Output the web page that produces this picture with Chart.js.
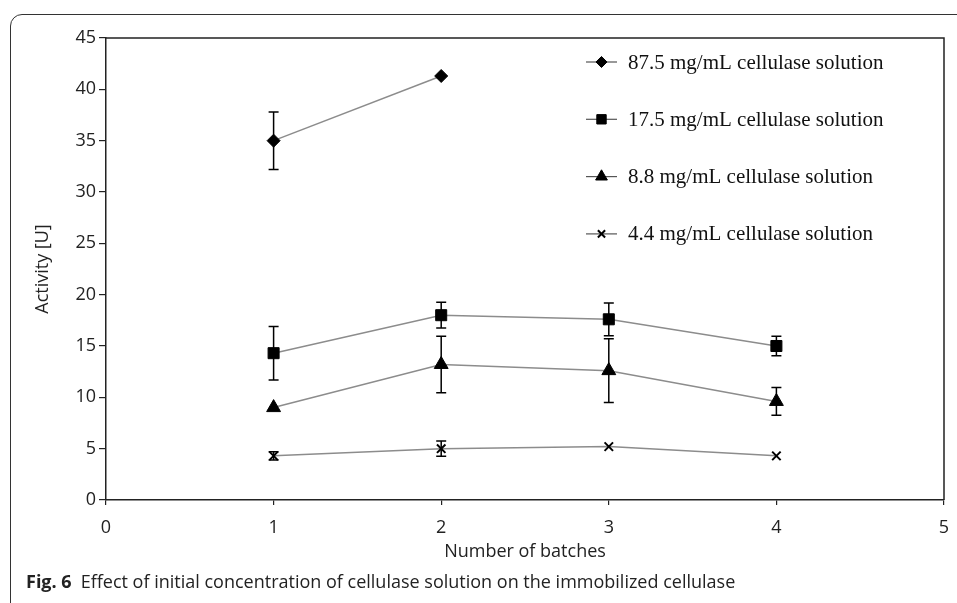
<!DOCTYPE html>
<html>
<head>
<meta charset="utf-8">
<script src="https://cdn.jsdelivr.net/npm/chart.js@4/dist/chart.umd.min.js"></script>
<style>
  body { margin: 0; background: #fff; width: 957px; height: 603px; overflow: hidden; position: relative; }
  #frame { position: absolute; left: 10px; top: 14px; width: 980px; height: 620px;
           border: 1.5px solid #333; border-top-left-radius: 12px; box-sizing: border-box; }
  #wrap { position: absolute; left: 0; top: 0; width: 957px; height: 603px; }
  #caption { position: absolute; left: 26px; top: 569px; font-family: "Open Sans", sans-serif;
             font-size: 18px; line-height: 24px; color: #222; white-space: nowrap; }
  #caption b { font-weight: 700; margin-right: 9px; }
</style>
</head>
<body>
<div id="frame"></div>
<div id="wrap"><canvas id="activity" width="957" height="603"></canvas></div>
<div id="caption"><b>Fig. 6</b>Effect of initial concentration of cellulase solution on the immobilized cellulase</div>
<script>
const batches = [1, 2, 3, 4];
const xTicks = [0, 1, 2, 3, 4, 5];
const yTicks = [0, 5, 10, 15, 20, 25, 30, 35, 40, 45];

const labels = [
  "87.5 mg/mL cellulase solution",
  "17.5 mg/mL cellulase solution",
  "8.8 mg/mL cellulase solution",
  "4.4 mg/mL cellulase solution",
];

// activity [U] per batch, with error bars (+/-)
const act875 = [35.0, 41.3, null, null];
const err875 = [2.8, 0, null, null];
const act175 = [14.3, 18.0, 17.6, 15.0];
const err175 = [2.6, 1.25, 1.6, 0.95];
const act88 = [9.0, 13.2, 12.6, 9.6];
const err88 = [0, 2.75, 3.1, 1.35];
const act44 = [4.3, 5.0, 5.2, 4.3];
const err44 = [0.4, 0.75, 0, 0];

const seriesValues = [act875, act175, act88, act44];
const seriesErrors = [err875, err175, err88, err44];
const pointStyles = ["rectRot", "rect", "triangle", "crossRot"];
const pointSizes = [6.5, 7.8, 8, 6];

const toPoints = (vals) =>
  batches.map((b, i) => ({ x: b, y: vals[i] })).filter((p) => p.y !== null);

const datasets = seriesValues.map((vals, i) => ({
  label: labels[i],
  data: toPoints(vals),
  errors: seriesErrors[i].filter((e) => e !== null),
  borderColor: "#8c8c8c",
  borderWidth: 1.5,
  pointStyle: pointStyles[i],
  pointRadius: pointSizes[i],
  pointBackgroundColor: "#000",
  pointBorderColor: "#000",
  pointBorderWidth: i === 3 ? 2 : 1,
  tension: 0,
  fill: false,
}));

// error bars drawn through the scales
const errorBars = {
  id: "errorBars",
  afterDatasetsDraw(chart) {
    const { ctx, scales } = chart;
    ctx.save();
    ctx.strokeStyle = "#000";
    ctx.lineWidth = 1.5;
    chart.data.datasets.forEach((ds) => {
      ds.data.forEach((p, j) => {
        const e = ds.errors[j];
        if (!e) return;
        const x = scales.x.getPixelForValue(p.x);
        const yTop = scales.y.getPixelForValue(p.y + e);
        const yBot = scales.y.getPixelForValue(p.y - e);
        ctx.beginPath();
        ctx.moveTo(x, yTop); ctx.lineTo(x, yBot);
        ctx.moveTo(x - 5, yTop); ctx.lineTo(x + 5, yTop);
        ctx.moveTo(x - 5, yBot); ctx.lineTo(x + 5, yBot);
        ctx.stroke();
      });
    });
    ctx.restore();
  },
};

// box on top/right of the plot + legend in the plot area
const plotBox = {
  id: "plotBox",
  afterDraw(chart) {
    const { ctx, chartArea: a } = chart;
    ctx.save();
    ctx.strokeStyle = "#222";
    ctx.lineWidth = 1.5;
    ctx.beginPath();
    ctx.moveTo(a.left, a.top); ctx.lineTo(a.right, a.top); ctx.lineTo(a.right, a.bottom);
    ctx.stroke();

    ctx.font = '21px "Liberation Serif", "Times New Roman", serif';
    ctx.textBaseline = "middle";
    chart.data.datasets.forEach((ds, i) => {
      const y = a.top + 24 + i * 57.3;
      const x0 = 586;
      ctx.strokeStyle = "#555";
      ctx.lineWidth = 1.2;
      ctx.beginPath();
      ctx.moveTo(x0, y); ctx.lineTo(x0 + 31, y);
      ctx.stroke();
      ctx.fillStyle = "#000";
      ctx.strokeStyle = "#000";
      ctx.lineWidth = ds.pointBorderWidth;
      Chart.helpers.drawPoint(ctx, {
        pointStyle: ds.pointStyle,
        radius: ds.pointRadius * 0.85,
        rotation: 0,
        borderWidth: ds.pointBorderWidth,
      }, x0 + 15.5, y);
      ctx.fillStyle = "#111";
      ctx.fillText(ds.label, 628, y + 1);
    });
    ctx.restore();
  },
};

const tickFont = { family: '"Open Sans", sans-serif', size: 18 };

new Chart(document.getElementById("activity"), {
  type: "line",
  data: { datasets },
  plugins: [errorBars, plotBox],
  options: {
    responsive: false,
    animation: false,
    layout: { padding: { left: 0, right: 13, top: 38, bottom: 38 } },
    plugins: { legend: { display: false }, tooltip: { enabled: false } },
    scales: {
      x: {
        type: "linear",
        min: 0,
        max: 5,
        afterBuildTicks: (s) => { s.ticks = xTicks.map((v) => ({ value: v })); },
        afterFit: (s) => { s.height = 65; s.paddingLeft = 0; s.paddingRight = 0; },
        ticks: { color: "#222", font: tickFont, padding: 12 },
        grid: { display: true, drawOnChartArea: false, tickLength: 5, color: "#222", lineWidth: 1.2 },
        border: { color: "#222", width: 1.5 },
        title: { display: true, text: "Number of batches", color: "#222", font: tickFont, padding: { top: 4, bottom: 2 } },
      },
      y: {
        min: 0,
        max: 45,
        afterBuildTicks: (s) => { s.ticks = yTicks.map((v) => ({ value: v })); },
        afterFit: (s) => { s.width = 106; s.paddingTop = 0; s.paddingBottom = 0; },
        ticks: { color: "#222", font: tickFont, padding: 3 },
        grid: { display: true, drawOnChartArea: false, tickLength: 7, color: "#222", lineWidth: 1.2 },
        border: { color: "#222", width: 1.5 },
        title: { display: true, text: "Activity [U]", color: "#222", font: tickFont, padding: { top: 32, bottom: 6 } },
      },
    },
  },
});
</script>
</body>
</html>
